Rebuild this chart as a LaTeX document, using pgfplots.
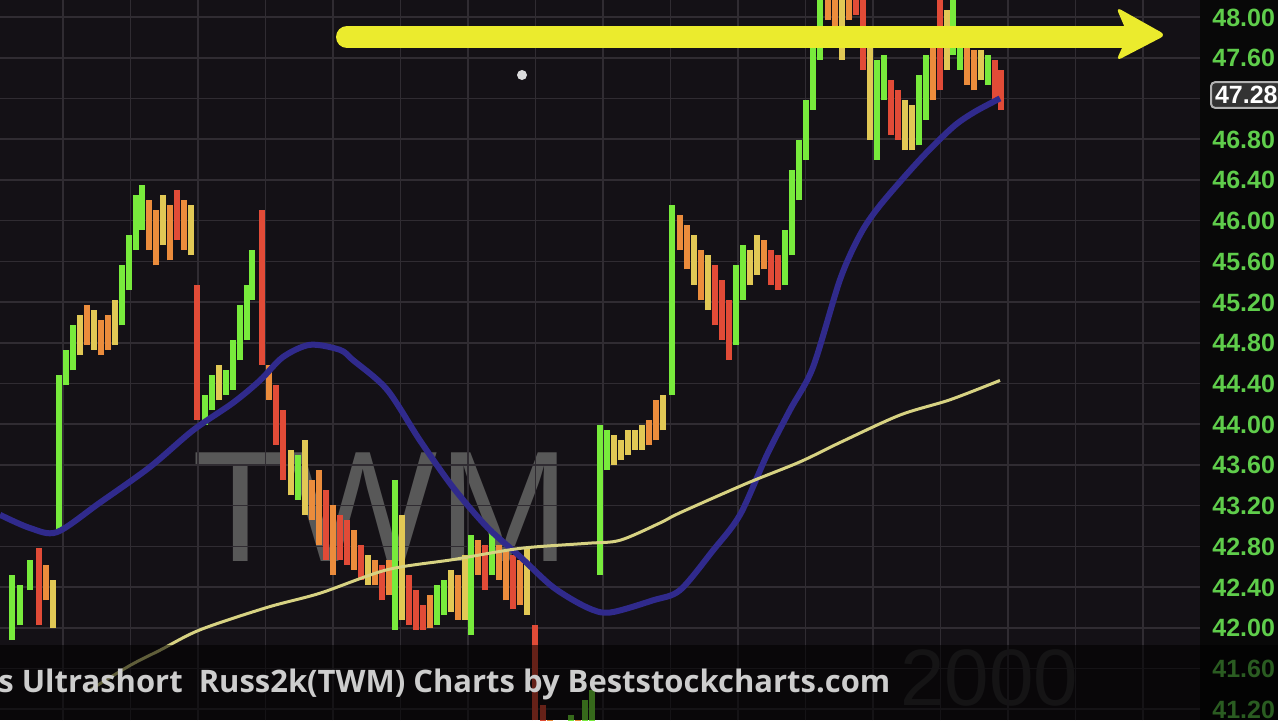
\documentclass[border=0pt]{standalone}
\usepackage{fontspec}
\setmainfont{Liberation Sans}
\newfontfamily\opensans{Open Sans}
\usepackage{pgfplots}
\pgfplotsset{compat=1.18}
\usepackage{pgfplotstable}

\definecolor{bgcol}{RGB}{20,17,22}
\definecolor{gridcol}{RGB}{48,44,50}
\definecolor{tickgreen}{RGB}{95,205,75}
\definecolor{gcol}{RGB}{120,235,60}
\definecolor{ocol}{RGB}{235,140,60}
\definecolor{rcol}{RGB}{225,75,55}
\definecolor{ycol}{RGB}{225,200,85}
\definecolor{bluema}{RGB}{48,42,140}
\definecolor{yellowma}{RGB}{215,210,130}
\definecolor{arrowyellow}{RGB}{235,235,45}
\definecolor{textgray}{RGB}{205,205,205}
\definecolor{wmgray}{RGB}{88,88,88}

% price bars: x position, low, high
\pgfplotstableread{
x lo hi
12 41.88 42.52
20 42.03 42.42
30 42.37 42.67
59 42.96 44.48
66 44.39 44.73
73 44.53 44.97
122 44.97 45.56
129 45.32 45.86
136 45.71 46.25
142 45.91 46.35
205 43.99 44.29
212 44.14 44.48
226 44.29 44.53
233 44.34 44.83
240 44.63 45.17
247 44.83 45.37
252 45.22 45.71
298 43.26 43.70
395 41.98 43.45
437 42.03 42.42
444 42.13 42.47
471 41.93 42.91
492 42.52 42.96
571 40.70 41.14
585 40.85 41.29
592 40.90 41.39
600 42.52 43.99
607 43.55 43.94
672 44.29 46.15
736 44.78 45.56
743 45.22 45.76
785 45.37 45.91
792 45.66 46.50
799 46.20 46.79
806 46.60 47.18
813 47.09 47.77
820 47.58 48.46
877 46.60 47.58
884 47.18 47.63
919 46.74 47.43
926 46.99 47.63
953 47.63 48.36
960 47.48 47.77
988 47.33 47.63
}\greenbars

\pgfplotstableread{
x lo hi
46 42.27 42.62
87 44.78 45.17
101 44.68 45.02
108 44.73 45.07
149 45.71 46.20
156 45.56 46.10
170 45.61 46.15
184 45.71 46.20
269 44.24 44.58
312 43.06 43.45
319 42.81 43.55
333 42.52 43.21
354 42.57 42.96
375 42.42 42.67
389 42.32 42.67
430 42.00 42.32
458 42.08 42.52
478 42.52 42.86
499 42.47 42.81
506 42.27 42.76
520 42.22 42.67
550 40.70 41.09
564 40.65 41.05
578 40.75 41.09
649 43.80 44.04
656 43.84 44.24
680 45.71 46.06
687 45.52 45.96
701 45.22 45.71
764 45.52 45.81
828 47.97 48.56
835 47.87 48.46
849 47.97 48.36
933 47.18 47.77
967 47.33 47.73
974 47.28 47.68
}\orangebars

\pgfplotstableread{
x lo hi
39 42.03 42.78
177 45.81 46.30
197 44.04 45.37
262 44.58 46.10
276 43.80 44.39
283 43.45 44.14
326 42.67 43.35
340 42.67 43.11
347 42.62 43.06
361 42.47 42.81
382 42.27 42.62
409 42.03 42.52
416 41.98 42.37
423 41.98 42.22
485 42.37 42.81
513 42.18 42.72
535 41.09 42.03
543 40.80 41.24
557 40.60 41.00
715 44.97 45.56
722 44.83 45.42
729 44.63 45.22
771 45.37 45.71
778 45.32 45.66
856 48.02 48.46
863 47.48 48.17
891 46.84 47.38
898 46.79 47.28
940 47.28 48.36
995 47.18 47.58
1001 47.09 47.48
}\redbars

\pgfplotstableread{
x lo hi
53 42.00 42.47
80 44.68 45.07
94 44.73 45.12
115 44.78 45.22
163 45.76 46.25
191 45.66 46.15
219 44.24 44.58
291 43.30 43.75
305 43.11 43.84
368 42.42 42.72
402 42.08 43.11
451 42.16 42.57
465 42.08 42.72
527 42.13 42.78
614 43.60 43.89
621 43.65 43.84
628 43.70 43.94
635 43.75 43.94
642 43.75 43.99
663 43.94 44.29
694 45.37 45.86
708 45.12 45.66
750 45.37 45.71
757 45.47 45.86
842 47.58 48.27
870 46.79 47.73
905 46.69 47.18
912 46.69 47.14
947 47.48 48.07
981 47.38 47.68
}\yellowbars

\pgfplotsset{
  pricebar/.style={draw=none, mark=none, forget plot,
    error bars/.cd, y dir=plus, y explicit, error mark=none,
    error bar style={solid, line width=3.1pt, draw=#1}},
}

\begin{document}
\begin{tikzpicture}
\begin{scope}[x=0.5pt, y=-0.5pt]
  \fill[black!97] (0,0) rectangle (1278,720);
  \fill[bgcol] (0,0) rectangle (1200,720);
  % watermarks
  \node[anchor=base west, inner sep=0, text=wmgray, font=\fontsize{79}{80}\selectfont] at (192,561) {TWM};
  \node[anchor=base west, inner sep=0, text=wmgray!40!bgcol, font=\fontsize{40}{42}\selectfont] at (900,705) {2000};
\end{scope}

\begin{axis}[
    at={(0,0)}, anchor=north west,
    width=600pt, height=360pt, scale only axis,
    xmin=0, xmax=1200,
    ymin=41.094, ymax=48.167,
    axis line style={draw=none},
    tick style={draw=none},
    xtick={63,130.5,198,265.5,333,400.5,468,535.5,603,670.5,738,805.5,873,940.5,1008,1075.5,1143},
    xticklabels={},
    ytick={41.2,41.6,42.0,42.4,42.8,43.2,43.6,44.0,44.4,44.8,45.2,45.6,46.0,46.4,46.8,47.2,47.6,48.0},
    yticklabels={41.20,41.60,42.00,42.40,42.80,43.20,43.60,44.00,44.40,44.80,45.20,45.60,46.00,46.40,46.80,,47.60,48.00},
    yticklabel pos=right,
    yticklabel style={text=tickgreen, font=\bfseries\fontsize{12.5}{14}\selectfont,
      anchor=base west, inner sep=0pt, text depth=0pt, yshift=-4.5pt, xshift=6pt},
    grid=major,
    major grid style={gridcol, line width=0.8pt},
]
\addplot[pricebar=gcol] table[x=x, y=lo, y error expr=\thisrow{hi}-\thisrow{lo}] {\greenbars};
\addplot[pricebar=ocol] table[x=x, y=lo, y error expr=\thisrow{hi}-\thisrow{lo}] {\orangebars};
\addplot[pricebar=rcol] table[x=x, y=lo, y error expr=\thisrow{hi}-\thisrow{lo}] {\redbars};
\addplot[pricebar=ycol] table[x=x, y=lo, y error expr=\thisrow{hi}-\thisrow{lo}] {\yellowbars};

% blue moving average
\addplot[bluema, line width=3pt, smooth, mark=none] coordinates {
  (0,43.11) (30,42.98) (57,42.94) (100,43.23) (150,43.58) (193,43.94)
  (233,44.21) (260,44.43) (283,44.66) (310,44.78) (340,44.73) (353,44.63)
  (387,44.34) (420,43.84) (453,43.38) (487,42.99) (520,42.70) (553,42.40)
  (587,42.20) (610,42.15) (653,42.27) (680,42.37) (713,42.76) (740,43.11)
  (767,43.70) (790,44.14) (813,44.56) (840,45.42) (860,45.86) (880,46.15)
  (920,46.60) (953,46.92) (975,47.07) (1000,47.20)
};
% yellow moving average
\addplot[yellowma, line width=1.5pt, smooth, mark=none] coordinates {
  (90,41.39) (130,41.63) (160,41.78) (200,41.98) (267,42.20) (320,42.34)
  (387,42.57) (453,42.67) (520,42.78) (587,42.83) (620,42.86) (660,43.03)
  (680,43.13) (747,43.42) (800,43.63) (840,43.82) (900,44.09) (950,44.24)
  (1000,44.43)
};
\end{axis}

\begin{scope}[x=0.5pt, y=-0.5pt]
  % yellow arrow
  \draw[arrowyellow, line width=11pt, line cap=round] (347,37) -- (1130,37);
  \fill[arrowyellow, rounded corners=3pt] (1116,7) -- (1166,35) -- (1116,61) -- (1128,35) -- cycle;
  % dot
  \fill[white, opacity=0.85] (522,75) circle (5);
  % dark band at the bottom
  \fill[black, opacity=0.55] (0,645) rectangle (1278,720);
  \node[anchor=base west, inner sep=0, text=textgray] at (-2,692)
    {\resizebox{446pt}{!}{\opensans\bfseries s Ultrashort\ \ Russ2k(TWM) Charts by Beststockcharts.com}};
  % last price box
  \node[anchor=west, draw=black!30, fill=black!80, rounded corners=2pt, line width=1pt,
        text=white, inner sep=2pt, font=\bfseries\fontsize{12.5}{14}\selectfont] at (1210,95) {47.28};
  \pgfresetboundingbox
  \path[use as bounding box] (0,0) rectangle (1278,720);
\end{scope}
\end{tikzpicture}
\end{document}
